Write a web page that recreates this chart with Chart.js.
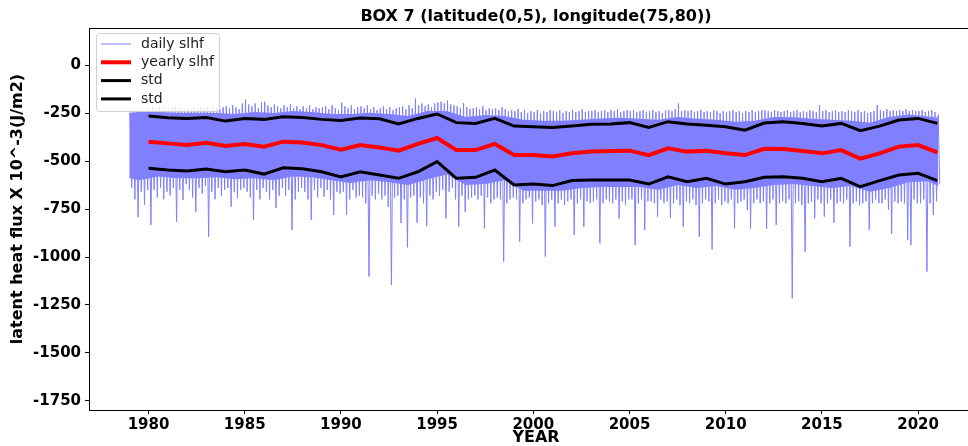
<!DOCTYPE html>
<html><head><meta charset="utf-8">
<script src="https://cdn.jsdelivr.net/npm/chart.js@4/dist/chart.umd.min.js"></script>
<style>html,body{margin:0;padding:0;background:#fff;overflow:hidden}canvas{display:block}</style>
</head><body>
<canvas id="c" width="968" height="446"></canvas>
<script>
const chartTitle = 'BOX 7 (latitude(0,5), longitude(75,80))';
const xTitle = 'YEAR';
const yTitle = 'latent heat flux X 10^-3(J/m2)';
const seriesNames = ['daily slhf', 'yearly slhf', 'std', 'std'];

const years = [1980,1981,1982,1983,1984,1985,1986,1987,1988,1989,1990,1991,1992,1993,1994,1995,1996,1997,1998,1999,2000,2001,2002,2003,2004,2005,2006,2007,2008,2009,2010,2011,2012,2013,2014,2015,2016,2017,2018,2019,2020,2021];
const yearlySlhf = [-399,-408,-417,-405,-422,-411,-425,-399,-403,-417,-441,-417,-429,-446,-411,-380,-443,-443,-411,-469,-469,-476,-460,-451,-448,-446,-469,-434,-451,-446,-460,-469,-436,-437,-448,-460,-443,-488,-460,-425,-417,-455];
const stdUpper = [-266,-274,-278,-273,-292,-278,-283,-269,-273,-283,-289,-276,-280,-307,-278,-255,-300,-304,-278,-318,-321,-325,-318,-309,-307,-300,-325,-295,-307,-313,-321,-339,-302,-295,-304,-318,-304,-342,-318,-286,-278,-304];
const stdLower = [-538,-547,-552,-542,-556,-547,-568,-535,-540,-556,-583,-556,-573,-590,-556,-503,-590,-585,-547,-625,-620,-628,-602,-599,-599,-599,-620,-582,-608,-590,-620,-608,-585,-582,-590,-608,-590,-634,-602,-573,-564,-602];

const xTickYears = [1980,1985,1990,1995,2000,2005,2010,2015,2020];
const yTickValues = [0,-250,-500,-750,-1000,-1250,-1500,-1750];

// daily slhf: the dense core of the daily trace (edges read per year, mid-year)
const dailyCoreX = [1979.0,1979.5,1980.5,1981.5,1982.5,1983.5,1984.5,1985.5,1986.5,1987.5,1988.5,1989.5,1990.5,1991.5,1992.5,1993.5,1994.5,1995.5,1996.5,1997.5,1998.5,1999.5,2000.5,2001.5,2002.5,2003.5,2004.5,2005.5,2006.5,2007.5,2008.5,2009.5,2010.5,2011.5,2012.5,2013.5,2014.5,2015.5,2016.5,2017.5,2018.5,2019.5,2020.5,2021.05];
const dailyCoreTop = [-250,-245,-245,-248,-248,-250,-255,-245,-250,-240,-245,-255,-255,-248,-255,-265,-240,-240,-270,-260,-265,-285,-290,-290,-285,-278,-275,-280,-285,-270,-280,-285,-295,-290,-270,-272,-280,-285,-290,-300,-270,-258,-268,-275];
const dailyCoreBottom = [-590,-600,-580,-590,-590,-585,-595,-590,-600,-580,-585,-600,-615,-600,-610,-625,-595,-570,-625,-620,-600,-655,-655,-655,-640,-635,-635,-635,-650,-625,-640,-630,-650,-640,-625,-620,-630,-640,-630,-660,-640,-610,-605,-630];

// daily slhf excursions, read per month (alternating upper / lower), one row per year from 1979
const dailyStartYear = 1979;
const dailyMonthly = [
 [-245,-640,-230,-700,-240,-793,-250,-660,-235,-729,-240,-650],
 [-225,-833,-215,-650,-230,-690,-220,-640,-235,-700,-225,-660],
 [-230,-680,-220,-640,-215,-816,-235,-650,-225,-703,-230,-620],
 [-225,-650,-235,-690,-220,-764,-230,-640,-215,-670,-225,-630],
 [-220,-894,-230,-660,-215,-700,-225,-640,-230,-680,-220,-650],
 [-215,-640,-225,-738,-210,-660,-220,-693,-230,-650,-200,-640],
 [-180,-660,-205,-690,-215,-807,-200,-650,-225,-700,-195,-640],
 [-191,-660,-210,-700,-220,-650,-205,-745,-215,-680,-225,-640],
 [-210,-680,-220,-650,-205,-859,-225,-700,-215,-660,-230,-640],
 [-215,-660,-225,-700,-210,-807,-230,-650,-220,-690,-225,-640],
 [-220,-686,-215,-650,-230,-700,-210,-781,-225,-660,-235,-670],
 [-196,-660,-215,-781,-225,-700,-210,-650,-230,-690,-220,-680],
 [-215,-690,-225,-720,-210,-1102,-230,-680,-220,-700,-235,-670],
 [-225,-700,-215,-680,-230,-740,-220,-1146,-235,-690,-225,-680],
 [-220,-823,-215,-700,-230,-950,-210,-690,-225,-680,-174,-821],
 [-210,-690,-200,-720,-215,-839,-205,-680,-220,-700,-200,-660],
 [-195,-680,-190,-650,-200,-799,-185,-660,-205,-640,-210,-700],
 [-215,-842,-225,-680,-198,-764,-220,-700,-230,-690,-225,-680],
 [-220,-700,-230,-680,-215,-851,-235,-690,-225,-720,-230,-700],
 [-225,-690,-235,-700,-220,-1024,-230,-720,-240,-700,-235,-690],
 [-240,-700,-230,-920,-245,-720,-235,-700,-250,-690,-240,-825],
 [-245,-710,-235,-700,-250,-730,-240,-998,-245,-720,-235,-700],
 [-240,-842,-245,-720,-235,-700,-250,-730,-240,-710,-245,-700],
 [-235,-885,-245,-720,-240,-700,-230,-842,-245,-710,-240,-720],
 [-240,-710,-235,-700,-245,-929,-240,-720,-235,-700,-245,-710],
 [-235,-720,-240,-700,-230,-800,-245,-710,-240,-730,-235,-700],
 [-240,-700,-235,-938,-245,-720,-240,-700,-235,-859,-245,-710],
 [-240,-710,-235,-720,-245,-790,-240,-700,-250,-720,-235,-710],
 [-235,-795,-240,-720,-230,-700,-200,-730,-240,-842,-235,-710],
 [-240,-720,-235,-700,-245,-730,-240,-894,-235,-720,-245,-700],
 [-240,-710,-245,-960,-235,-720,-240,-700,-250,-730,-240,-710],
 [-245,-720,-240,-700,-235,-851,-245,-720,-240,-710,-250,-700],
 [-240,-755,-245,-851,-235,-720,-245,-700,-240,-720,-235,-710],
 [-235,-854,-240,-720,-245,-700,-235,-833,-240,-720,-245,-710],
 [-240,-720,-235,-700,-245,-1215,-240,-720,-235,-710,-245,-730],
 [-240,-972,-245,-720,-235,-710,-240,-799,-245,-700,-208,-720],
 [-240,-790,-235,-720,-245,-700,-240,-821,-235,-720,-245,-710],
 [-240,-720,-245,-700,-235,-946,-240,-720,-245,-710,-235,-730],
 [-245,-720,-240,-710,-250,-859,-245,-720,-240,-700,-208,-720],
 [-235,-720,-240,-700,-230,-755,-240,-880,-235,-710,-240,-720],
 [-235,-710,-240,-720,-230,-911,-240,-938,-235,-700,-240,-720],
 [-240,-720,-235,-700,-245,-1076,-240,-720,-235,-781,-245,-710],
 [-260,-620]
];

const dailyPoints = [];
dailyMonthly.forEach((row, r) => row.forEach((v, m) => {
  dailyPoints.push({x: dailyStartYear + r + (m + 0.5) / 12, y: v});
}));
const toXY = (xs, arr) => arr.map((v, i) => ({x: xs[i], y: v}));

const DAILY = '#8080ff';
const FONT = 'DejaVu Sans';
const decor = {
  id: 'decor',
  afterDraw(chart) {
    const ctx = chart.ctx, a = chart.chartArea;
    ctx.save();
    ctx.strokeStyle = '#000'; ctx.lineWidth = 1;
    ctx.beginPath(); ctx.moveTo(a.left, a.top + 0.5); ctx.lineTo(a.right, a.top + 0.5); ctx.stroke();
    ctx.fillStyle = '#000';
    ctx.font = 'bold 16px "' + FONT + '"';
    ctx.textAlign = 'center'; ctx.textBaseline = 'middle';
    ctx.fillText(chartTitle, 536, 17);
    ctx.fillText(xTitle, 536, 438);
    ctx.save();
    ctx.translate(18, 209); ctx.rotate(-Math.PI / 2);
    ctx.fillText(yTitle, 0, 0);
    ctx.restore();
    const lx = 96.5, ly = 33.5, lw = 123, lh = 78, r = 3;
    ctx.beginPath();
    ctx.moveTo(lx + r, ly); ctx.lineTo(lx + lw - r, ly); ctx.quadraticCurveTo(lx + lw, ly, lx + lw, ly + r);
    ctx.lineTo(lx + lw, ly + lh - r); ctx.quadraticCurveTo(lx + lw, ly + lh, lx + lw - r, ly + lh);
    ctx.lineTo(lx + r, ly + lh); ctx.quadraticCurveTo(lx, ly + lh, lx, ly + lh - r);
    ctx.lineTo(lx, ly + r); ctx.quadraticCurveTo(lx, ly, lx + r, ly);
    ctx.closePath();
    ctx.fillStyle = 'rgba(255,255,255,0.8)'; ctx.fill();
    ctx.strokeStyle = '#d0d0d0'; ctx.lineWidth = 1; ctx.stroke();
    const styles = [[DAILY, 1], ['#ff0000', 4], ['#000000', 3], ['#000000', 3]];
    ctx.font = '14px "' + FONT + '"';
    ctx.textAlign = 'left'; ctx.textBaseline = 'middle';
    seriesNames.forEach((name, i) => {
      const yy = 44 + i * 18.3;
      ctx.strokeStyle = styles[i][0]; ctx.lineWidth = styles[i][1];
      ctx.beginPath(); ctx.moveTo(101, yy); ctx.lineTo(131, yy); ctx.stroke();
      ctx.fillStyle = '#222';
      ctx.fillText(name, 141, yy);
    });
    ctx.restore();
  }
};

const tickFont = {family: FONT, size: 15, weight: 'bold'};
new Chart(document.getElementById('c'), {
  type: 'line',
  data: {
    datasets: [
      {label: 'core top', data: toXY(dailyCoreX, dailyCoreTop), borderWidth: 0, borderColor: 'transparent', backgroundColor: DAILY, fill: '+1', pointRadius: 0, order: 6},
      {label: 'core bottom', data: toXY(dailyCoreX, dailyCoreBottom), borderWidth: 0, borderColor: 'transparent', pointRadius: 0, fill: false, order: 6},
      {label: seriesNames[0], data: dailyPoints, borderColor: DAILY, borderWidth: 1, pointRadius: 0, fill: false, order: 4},
      {label: seriesNames[1], data: toXY(years, yearlySlhf), borderColor: '#ff0000', borderWidth: 4, pointRadius: 0, fill: false, order: 3},
      {label: seriesNames[2], data: toXY(years, stdUpper), borderColor: '#000000', borderWidth: 3, pointRadius: 0, fill: false, order: 2},
      {label: seriesNames[3], data: toXY(years, stdLower), borderColor: '#000000', borderWidth: 3, pointRadius: 0, fill: false, order: 1}
    ]
  },
  options: {
    responsive: false, animation: false, devicePixelRatio: 1,
    layout: {padding: {left: 0, right: 0, top: 28, bottom: 0}},
    plugins: {legend: {display: false}, title: {display: false}, tooltip: {enabled: false}},
    elements: {line: {tension: 0}},
    scales: {
      x: {
        type: 'linear', min: 1976.907, max: 2022.593,
        afterBuildTicks: s => { s.ticks = xTickYears.map(v => ({value: v})); },
        afterFit: s => { s.height = 36; },
        grid: {drawOnChartArea: false, drawTicks: true, tickLength: 4, color: '#000', lineWidth: 1},
        border: {display: true, color: '#000', width: 1},
        ticks: {font: tickFont, color: '#000', padding: 2, maxRotation: 0, autoSkip: false, callback: v => String(v)}
      },
      y: {
        type: 'linear', min: -1797, max: 193,
        afterBuildTicks: s => { s.ticks = yTickValues.map(v => ({value: v})); },
        afterFit: s => { s.width = 89; },
        grid: {drawOnChartArea: false, drawTicks: true, tickLength: 4, color: '#000', lineWidth: 1},
        border: {display: true, color: '#000', width: 1},
        ticks: {font: tickFont, color: '#000', padding: 4, autoSkip: false, callback: v => String(v)}
      }
    }
  },
  plugins: [decor]
});
</script>
</body></html>
